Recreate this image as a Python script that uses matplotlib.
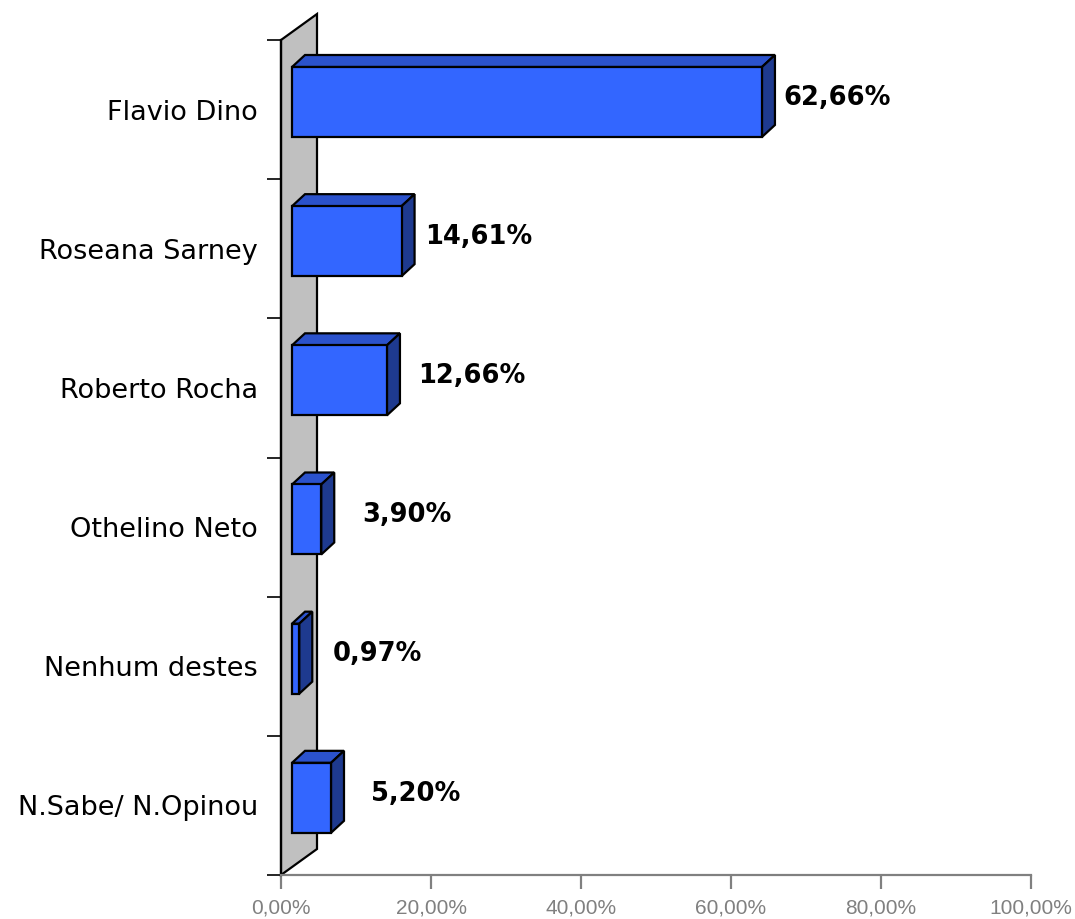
import matplotlib.pyplot as plt
from matplotlib.patches import Polygon

# data
candidates = ['Flavio Dino', 'Roseana Sarney', 'Roberto Rocha',
              'Othelino Neto', 'Nenhum destes', 'N.Sabe/ N.Opinou']
values = [62.66, 14.61, 12.66, 3.90, 0.97, 5.20]
value_labels = ['62,66%', '14,61%', '12,66%', '3,90%', '0,97%', '5,20%']
x_ticks = [0, 20, 40, 60, 80, 100]
x_tick_labels = ['0,00%', '20,00%', '40,00%', '60,00%', '80,00%', '100,00%']

# 3d look (in data units)
px_x = 100 / 750.0          # percent per pixel
px_y = 6 / 835.0            # category units per pixel
x0 = 11 * px_x              # front plane start of bars
ddx = 13 * px_x             # bar depth
ddy = 12 * px_y
wall_dx = 36 * px_x
wall_dy = 26 * px_y
bar_top = 0.194
bar_bot = 0.697
label_pad = [2.8, 3.1, 4.1, 5.5, 4.5, 5.3]

front_c = '#3366FF'
top_c = '#2B52CC'
side_c = '#1E3A8F'

fig = plt.figure(figsize=(10.75, 9.19), dpi=100)
ax = fig.add_axes([281 / 1075, 44 / 919, 750 / 1075, 835 / 919])
ax.set_xlim(0, 100)
ax.set_ylim(6, 0)

# back wall
wall = Polygon([(0, 6), (0, 0), (wall_dx, -wall_dy), (wall_dx, 6 - wall_dy)],
               closed=True, facecolor='#C0C0C0', edgecolor='black', lw=1.6,
               clip_on=False, zorder=1)
ax.add_patch(wall)

for i, v in enumerate(values):
    xl = x0
    xr = x0 + v
    yt = i + bar_top
    yb = i + bar_bot
    front = [(xl, yb), (xl, yt), (xr, yt), (xr, yb)]
    top = [(xl, yt), (xl + ddx, yt - ddy), (xr + ddx, yt - ddy), (xr, yt)]
    side = [(xr, yt), (xr + ddx, yt - ddy), (xr + ddx, yb - ddy), (xr, yb)]
    for pts, c in [(top, top_c), (side, side_c), (front, front_c)]:
        ax.add_patch(Polygon(pts, closed=True, facecolor=c, edgecolor='black',
                             lw=1.6, zorder=3, clip_on=False))
    ax.text(xr + label_pad[i], (yt + yb) / 2 - 0.03, value_labels[i],
            fontsize=18.5, fontweight='bold', va='center', ha='left',
            color='black', zorder=4)

# axes styling
for s in ['top', 'right']:
    ax.spines[s].set_visible(False)
ax.spines['left'].set_color('black')
ax.spines['left'].set_linewidth(1.6)
ax.spines['bottom'].set_color('#808080')
ax.spines['bottom'].set_linewidth(1.6)
ax.spines['left'].set_zorder(2)

ax.set_xticks(x_ticks)
ax.set_xticklabels(x_tick_labels, fontsize=15, color='#808080',
                   fontfamily='Liberation Sans')
ax.tick_params(axis='x', direction='out', length=10, width=1.6,
               color='#808080', pad=7)

ax.set_yticks(range(7))
ax.set_yticklabels([])
ax.tick_params(axis='y', which='major', direction='out', length=10,
               width=1.2, color='black')
ax.set_yticks([i + 0.5 for i in range(6)], minor=True)
ax.set_yticklabels(candidates, minor=True, fontsize=19.5)
ax.tick_params(axis='y', which='minor', length=0, pad=16.5)

fig.savefig('out.png', dpi=100)
